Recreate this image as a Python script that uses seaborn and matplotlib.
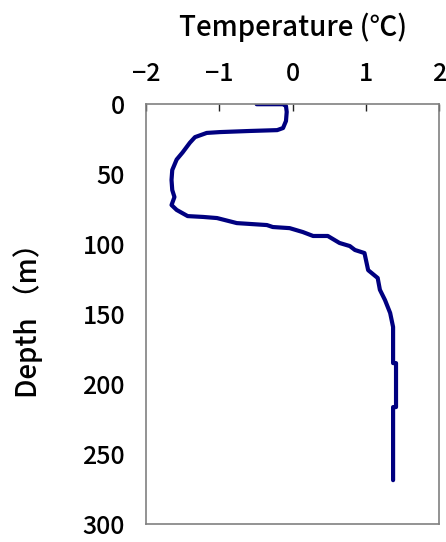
import numpy as np
import pandas as pd
import matplotlib
matplotlib.use("Agg")
import matplotlib.pyplot as plt
import seaborn as sns

# =========================================
# DATA
# =========================================

temperature = [-0.49, -0.13, -0.09, -0.08, -0.09, -0.13, -0.21, -0.58, -0.99,
               -1.17, -1.33, -1.40, -1.50, -1.58, -1.64, -1.65, -1.64, -1.61,
               -1.65, -1.58, -1.43, -1.22, -1.03, -0.76, -0.35, -0.27, -0.04,
               0.14, 0.28, 0.48, 0.64, 0.78, 0.85, 0.98, 1.03, 1.16, 1.19,
               1.26, 1.33, 1.37, 1.37, 1.41, 1.41, 1.37, 1.37]
depth = [0.5, 0.5, 1.8, 6.0, 12.5, 17.5, 19.0, 19.6, 20.4,
         21.0, 24.0, 28.0, 35.0, 40.0, 47.5, 54.6, 61.8, 66.8,
         72.5, 76.0, 80.4, 81.0, 81.8, 85.4, 86.8, 88.2, 89.0,
         91.8, 94.6, 94.6, 99.6, 101.8, 104.6, 106.8, 119.0, 124.6, 133.0,
         140.4, 149.6, 159.6, 185.4, 185.4, 216.8, 216.8, 269.0]

x_ticks = [-2, -1, 0, 1, 2]
y_ticks = [0, 50, 100, 150, 200, 250, 300]

df = pd.DataFrame({"temperature": temperature, "depth": depth})

# =========================================
# STYLE
# =========================================

sns.set_style("white")
plt.rcParams["font.family"] = ["Noto Sans CJK JP", "DejaVu Sans"]
plt.rcParams["text.color"] = "black"
plt.rcParams["axes.labelcolor"] = "black"

fig = plt.figure(figsize=(4.46, 5.42), dpi=100)
ax = fig.add_axes([0.327, 0.034, 0.658, 0.775])

sns.lineplot(data=df, x="temperature", y="depth", sort=False, estimator=None,
             color="#000080", linewidth=3, ax=ax)
prof = ax.lines[0]
prof.set_solid_capstyle("round")
prof.set_solid_joinstyle("round")

ax.set_xlim(-2, 2)
ax.set_ylim(300, 0)
ax.set_xticks(x_ticks)
ax.set_yticks(y_ticks)
ax.xaxis.tick_top()
ax.xaxis.set_label_position("top")
ax.tick_params(axis="both", direction="in", length=5, width=1,
               color="#222222", labelsize=18, labelcolor="black")
ax.set_xticklabels([str(t).replace("-", "\u2212") for t in x_ticks])
ax.tick_params(axis="x", pad=12)
ax.tick_params(axis="y", pad=15)
for lab in ax.get_xticklabels() + ax.get_yticklabels():
    lab.set_fontweight("medium")

# grey frame round the plot area
for side in ["left", "right", "top", "bottom"]:
    ax.spines[side].set_visible(True)
    ax.spines[side].set_edgecolor("#808080")
    ax.spines[side].set_linewidth(1.2)

ax.set_xlabel("Temperature (℃)", fontsize=20, fontweight="medium", labelpad=18)
ax.set_ylabel("Depth （m）", fontsize=20, fontweight="medium", labelpad=28)

fig.savefig("out.png", dpi=100)

# check that the top and right edges of the frame came out
img = plt.imread("out.png")
top_px = img[103:106, 400, 0].min()
right_px = img[300, 438:441, 0].min()
if top_px > 0.9 or right_px > 0.9:
    raise RuntimeError(f"frame missing: top={top_px} right={right_px}")
